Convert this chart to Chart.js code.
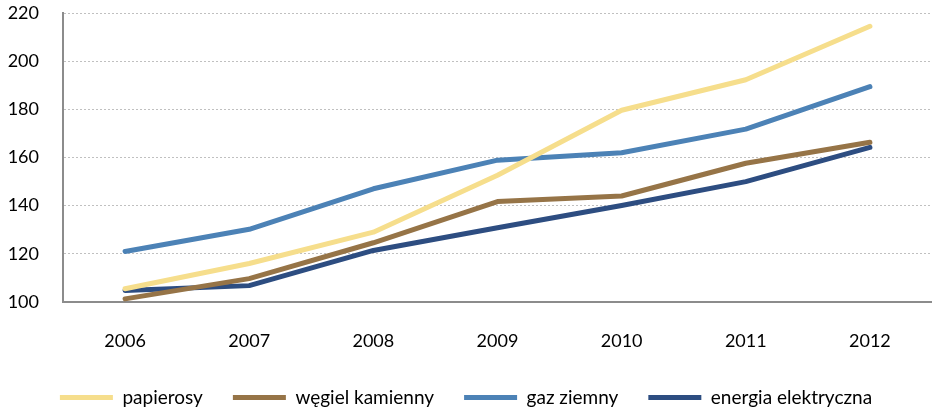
<!DOCTYPE html>
<html>
<head>
<meta charset="utf-8">
<script src="https://cdn.jsdelivr.net/npm/chart.js@4.4.0/dist/chart.umd.min.js"></script>
<style>
  html, body { margin: 0; padding: 0; background: #fff; }
  #wrap { width: 932px; height: 417px; position: relative; }
</style>
</head>
<body>
<div id="wrap"><canvas id="priceChart"></canvas></div>
<script>
// lata i wartości
var years = ['2006', '2007', '2008', '2009', '2010', '2011', '2012'];
var papierosy = [105.5, 116, 129, 152.6, 179.6, 192.3, 214.5];
var wegiel = [101.3, 109.7, 124.6, 141.7, 144, 157.6, 166.3];
var gaz = [121, 130.2, 147, 158.9, 162, 171.8, 189.4];
var energia = [104.8, 106.8, 121.4, 130.8, 140.1, 150, 164.2];
var yTicks = [100, 120, 140, 160, 180, 200, 220];

function series(label, data, color) {
    return {
        label: label,
        data: data,
        borderColor: color,
        backgroundColor: color,
        borderWidth: 5,
        borderCapStyle: 'round',
        borderJoinStyle: 'round',
        pointRadius: 0,
        tension: 0
    };
}

var ctx = document.getElementById('priceChart').getContext('2d');
var priceChart = new Chart(ctx, {
    type: 'line',
    data: {
        labels: years,
        datasets: [
            series('papierosy', papierosy, '#F6DE8C'),
            series('węgiel kamienny', wegiel, '#967447'),
            series('gaz ziemny', gaz, '#4C82B6'),
            series('energia elektryczna', energia, '#2D4D81')
        ]
    },
    options: {
        responsive: true,
        maintainAspectRatio: false,
        animation: false,
        layout: { padding: { top: 13, right: 0, bottom: 0, left: 0 } },
        plugins: {
            tooltip: { enabled: false },
            legend: {
                position: 'bottom',
                labels: {
                    boxWidth: 53,
                    boxHeight: 5,
                    padding: 30,
                    color: '#000',
                    font: { family: 'Lato', size: 19 },
                    // cienka kreska zamiast prostokąta z obramowaniem
                    generateLabels: function(chart) {
                        var items = Chart.defaults.plugins.legend.labels.generateLabels(chart);
                        items.forEach(function(item) { item.lineWidth = 0; });
                        return items;
                    }
                }
            }
        },
        scales: {
            x: {
                offset: true,
                grid: { display: false, drawTicks: false },
                border: { display: true, color: '#8c8c8c', width: 2 },
                ticks: { color: '#000', padding: 28, font: { family: 'Lato', size: 18 } },
                afterFit: function(scale) { scale.height = 56; }
            },
            y: {
                min: 100,
                max: 220,
                afterBuildTicks: function(scale) {
                    scale.ticks = yTicks.map(function(v) { return { value: v }; });
                },
                grid: { color: '#c0c0c0', lineWidth: 1, drawTicks: false },
                border: { display: true, color: '#8c8c8c', width: 2, dash: [2, 2] },
                ticks: { color: '#000', padding: 24, font: { family: 'Lato', size: 18 } },
                afterFit: function(scale) {
                    scale.width = 63;
                    scale.paddingTop = 0;
                    scale.paddingBottom = 0;
                }
            }
        }
    }
});
</script>
</body>
</html>
